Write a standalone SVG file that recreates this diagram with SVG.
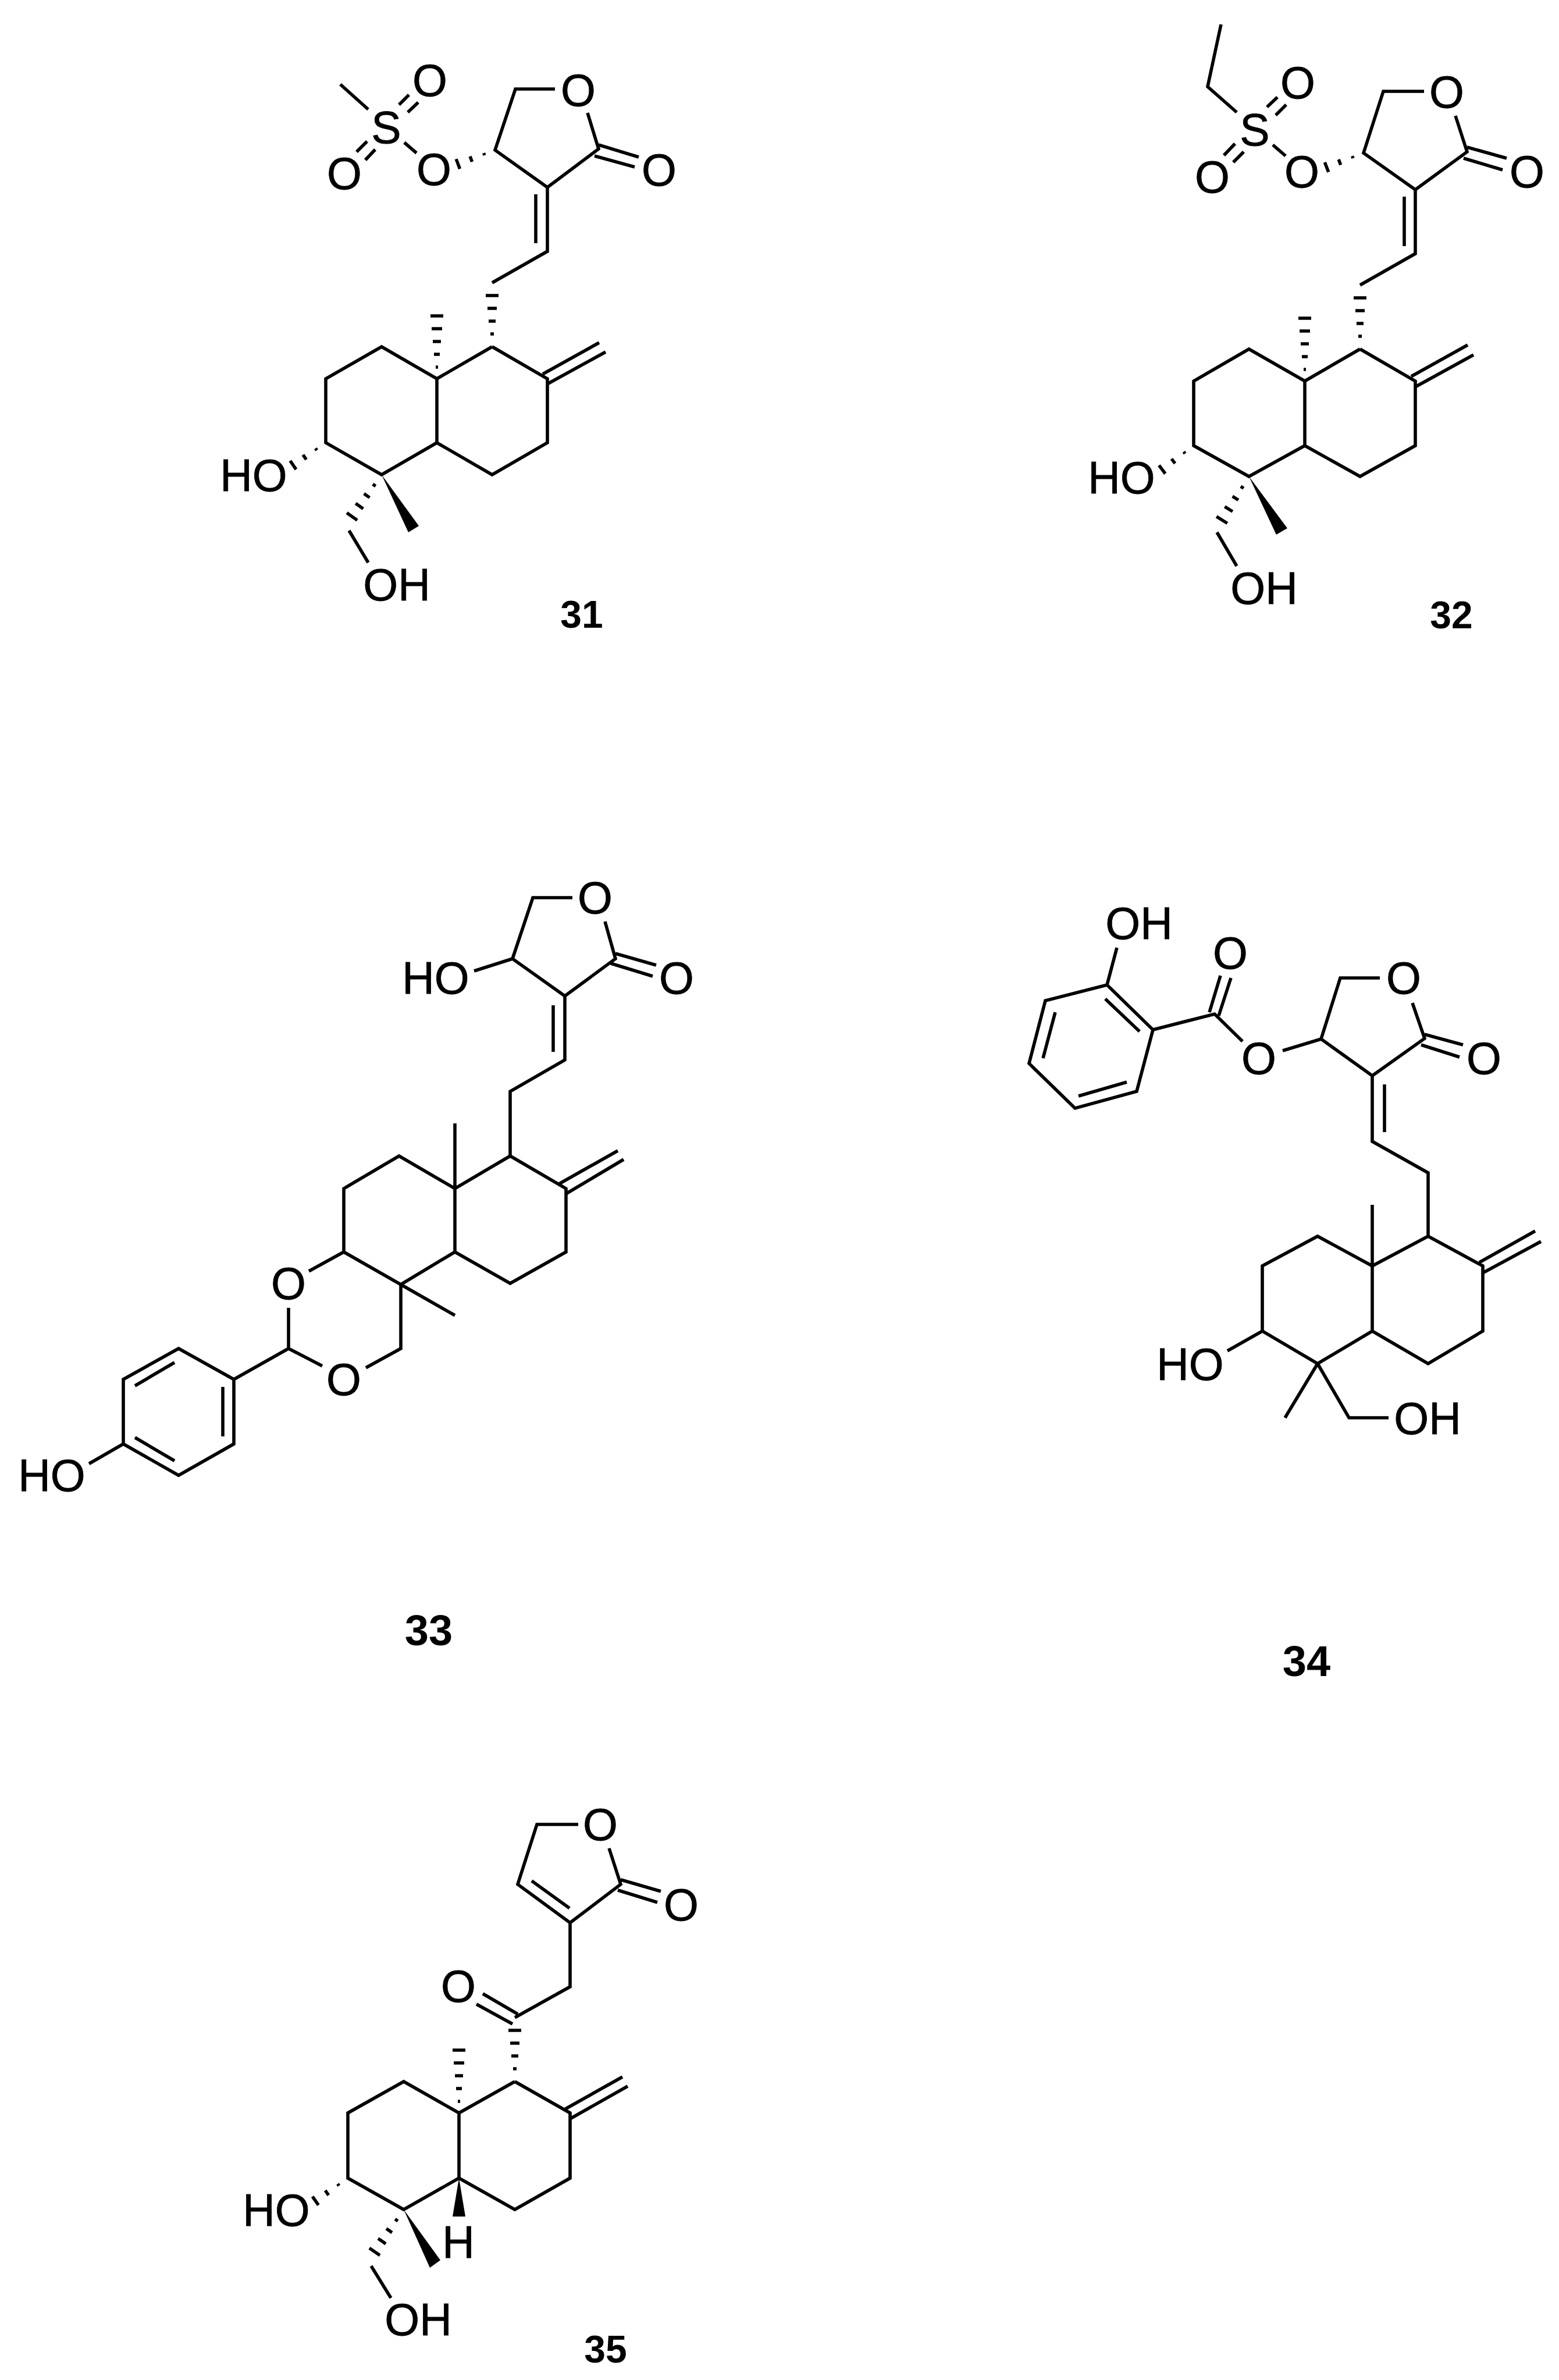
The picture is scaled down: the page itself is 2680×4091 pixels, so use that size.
<svg xmlns="http://www.w3.org/2000/svg" width="2680" height="4091" viewBox="0 0 2680 4091">
<style>
.b{fill:none;stroke:#000;stroke-width:5.6;stroke-linejoin:miter;stroke-linecap:butt}
.s{stroke:#000;stroke-width:5.5;fill:none}
.w{fill:#000;stroke:none}
text{font-family:"Liberation Sans",Arial,sans-serif;fill:#000;text-anchor:middle}
.a{font-size:77px;stroke:#000;stroke-width:.8px}
.n{font-size:66px;font-weight:bold}
.l{font-size:74px;font-weight:bold}
</style>
<defs>
<g id="h3" class="s"><path d="M20,-2V2M44,-5V5M68,-9V9"/></g>
<g id="h4" class="s"><path d="M22,-3V3M44,-6V6M66,-8V8M88,-11V11"/></g>
<g id="h5" class="s"><path d="M20,-2V2M42,-5V5M64,-7V7M86,-9V9M108,-11V11"/></g>
</defs>
<rect width="2680" height="4091" fill="#fff"/>

<g id="compound-31">
<path class="b" d="M585,145L633,188M686,180L703,163M701,193L719,176M613,261L631,243M628,275L645,257M695,245L716,263"/>
<path class="b" d="M954,153H886L851,258L941,322L1029,256L1010,194M1029,249L1098,270M1022,268L1091,287M941,322V432L846,486M921,334V418"/>
<path class="b" d="M846,596L751,651L656,596L560,651V761L656,816L751,761L846,816L941,761V651L846,596M751,651V761M933,643L1030,589M941,660L1041,605M600,912L633,967"/>
<path class="w" d="M656,816L720,904L702,915Z"/>
<use href="#h3" transform="translate(851,258) rotate(159.5)"/>
<use href="#h4" transform="translate(846,596) rotate(-90)"/>
<use href="#h5" transform="translate(751,651) rotate(-90)"/>
<use href="#h3" transform="translate(560,761) rotate(145.6)"/>
<use href="#h4" transform="translate(656,816) rotate(125.3)"/>
<text class="a" x="664" y="246">S</text>
<text class="a" x="739" y="165">O</text>
<text class="a" x="592" y="325">O</text>
<text class="a" x="746" y="318">O</text>
<text class="a" x="994" y="182">O</text>
<text class="a" x="1133" y="319">O</text>
<text class="a" x="436" y="844">HO</text>
<text class="a" x="682" y="1032">OH</text>
<text class="n" x="1000" y="1079">31</text>
</g>

<g id="compound-32">
<path class="b" d="M2099,42L2076,149L2126,193M2178,184L2196,167M2193,198L2211,180M2104,267L2123,247M2120,279L2138,261M2188,249L2210,268"/>
<path class="b" d="M2448,157H2378L2344,263L2433,326L2522,261L2502,199M2522,253L2590,272M2516,272L2583,292M2433,326V436L2338,490M2414,338V423"/>
<path class="b" d="M2338,600L2243,655L2147,600L2052,655V766L2147,819L2243,766L2338,819L2433,766V655L2338,600M2243,655V766M2426,647L2523,593M2433,665L2533,610M2092,915L2126,973"/>
<path class="w" d="M2147,819L2213,908L2194,919Z"/>
<use href="#h3" transform="translate(2344,263) rotate(159)"/>
<use href="#h4" transform="translate(2338,600) rotate(-90)"/>
<use href="#h5" transform="translate(2243,655) rotate(-90)"/>
<use href="#h3" transform="translate(2052,766) rotate(142.8)"/>
<use href="#h4" transform="translate(2147,819) rotate(121.9)"/>
<text class="a" x="2157" y="250">S</text>
<text class="a" x="2231" y="169">O</text>
<text class="a" x="2084" y="331">O</text>
<text class="a" x="2238" y="322">O</text>
<text class="a" x="2487" y="185">O</text>
<text class="a" x="2625" y="322">O</text>
<text class="a" x="1928" y="848">HO</text>
<text class="a" x="2173" y="1038">OH</text>
<text class="n" x="2495" y="1080">32</text>
</g>

<g id="compound-33">
<path class="b" d="M984,1543H916L881,1648L971,1712L1058,1648L1040,1584M815,1669L881,1648M1058,1639L1128,1659M1050,1656L1122,1678M971,1712V1822L877,1876V1987M951,1728V1808"/>
<path class="b" d="M877,1987L782,2043L686,1987L591,2043V2152L689,2208L782,2152L877,2206L973,2152V2043L877,1987M782,2043V2152M782,2043V1931M961,2035L1062,1978M973,2052L1072,1993M689,2208L782,2261M531,2185L591,2152M689,2208V2318L629,2351M554,2348L496,2318V2248M496,2318L402,2371"/>
<path class="b" d="M402,2371L307,2318L212,2371V2482L307,2536L402,2482ZM300,2342L232,2382M383,2384V2469M232,2471L300,2511M212,2482L153,2516"/>
<text class="a" x="749" y="1708">HO</text>
<text class="a" x="1023" y="1570">O</text>
<text class="a" x="1163" y="1708">O</text>
<text class="a" x="496" y="2233">O</text>
<text class="a" x="591" y="2398">O</text>
<text class="a" x="89" y="2563">HO</text>
<text class="l" x="737" y="2828">33</text>
</g>

<g id="compound-34">
<path class="b" d="M1920,1629L1903,1693L1982,1770L1954,1876L1848,1905L1769,1828L1797,1720L1903,1693M1900,1717L1959,1773M1937,1860L1854,1884M1793,1819L1814,1740M1982,1770L2088,1743L2136,1790M2079,1740L2098,1677M2095,1746L2116,1681M2205,1806L2271,1786"/>
<path class="b" d="M2372,1681H2304L2271,1786L2359,1849L2449,1785L2428,1724M2449,1778L2515,1796M2443,1796L2509,1817M2359,1849V1962L2455,2016V2125M2380,1864V1946"/>
<path class="b" d="M2455,2125L2359,2176L2265,2125L2170,2176V2288L2265,2344L2359,2288L2455,2344L2549,2288V2176L2455,2125M2359,2176V2288M2359,2176V2071M2543,2170L2639,2116M2549,2188L2649,2134M2110,2322L2170,2288M2265,2344L2209,2437M2265,2344L2319,2437H2387"/>
<text class="a" x="1958" y="1614">OH</text>
<text class="a" x="2115" y="1665">O</text>
<text class="a" x="2164" y="1846">O</text>
<text class="a" x="2413" y="1708">O</text>
<text class="a" x="2551" y="1846">O</text>
<text class="a" x="2046" y="2372">HO</text>
<text class="a" x="2454" y="2465">OH</text>
<text class="l" x="2246" y="2881">34</text>
</g>

<g id="compound-35">
<path class="b" d="M994,3136H923L890,3239L980,3305L1067,3239L1047,3177M914,3233L979,3280M1067,3231L1136,3251M1062,3249L1130,3270M980,3305V3415L885,3468M830,3427L890,3462M819,3445L881,3479"/>
<path class="b" d="M885,3578L789,3632L694,3578L598,3632V3744L694,3798L789,3744L885,3798L980,3744V3632L885,3578M789,3632V3744M972,3625L1070,3570M980,3642L1079,3586M638,3895L672,3950"/>
<path class="w" d="M789,3744L800,3810H778ZM694,3798L757,3885L739,3898Z"/>
<use href="#h4" transform="translate(885,3578) rotate(-90)"/>
<use href="#h5" transform="translate(789,3632) rotate(-90)"/>
<use href="#h3" transform="translate(598,3744) rotate(145)"/>
<use href="#h4" transform="translate(694,3798) rotate(124.6)"/>
<text class="a" x="1032" y="3163">O</text>
<text class="a" x="1171" y="3301">O</text>
<text class="a" x="788" y="3441">O</text>
<text class="a" x="788" y="3881">H</text>
<text class="a" x="475" y="3826">HO</text>
<text class="a" x="719" y="4014">OH</text>
<text class="n" x="1041" y="4061">35</text>
</g>
</svg>
